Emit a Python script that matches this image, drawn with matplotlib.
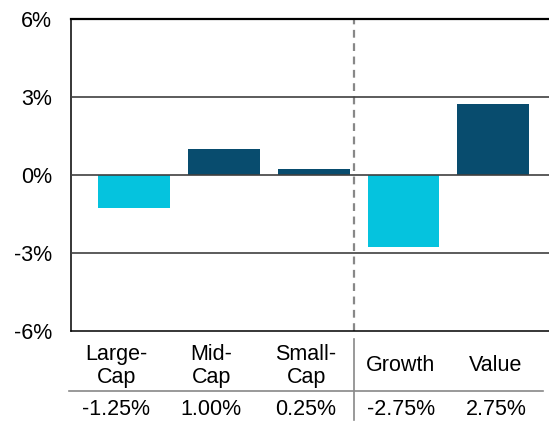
import matplotlib.pyplot as plt
import matplotlib.ticker as mticker

plt.rcParams["font.family"] = ["Liberation Sans", "DejaVu Sans"]

categories = ["Large-\nCap", "Mid-\nCap", "Small-\nCap", "Growth", "Value"]
values = [-1.25, 1.00, 0.25, -2.75, 2.75]
value_labels = ["-1.25%", "1.00%", "0.25%", "-2.75%", "2.75%"]
y_ticks = [-6, -3, 0, 3, 6]

CYAN = "#05C3DE"
NAVY = "#084C6E"
colors = [CYAN if v < 0 else NAVY for v in values]

fig = plt.figure(figsize=(5.49, 4.23), dpi=100)
ax = fig.add_axes([71 / 549, 92 / 423, 478 / 549, 312 / 423])

x = list(range(len(categories)))
ax.bar(x, values, width=0.8, color=colors, zorder=2)

# inner gridlines drawn on top of the bars
for t in y_ticks[1:-1]:
    ax.axhline(t, color="#404040", linewidth=1.2, zorder=3)

ax.set_xlim(-0.70, 4.62)
ax.set_ylim(y_ticks[0], y_ticks[-1])
ax.set_yticks(y_ticks)
ax.yaxis.set_major_formatter(mticker.FuncFormatter(lambda v, _: f"{v:.0f}%"))
ax.tick_params(axis="y", length=0, pad=13.5, labelsize=15.5)
ax.set_xticks([])

for s in ("left", "bottom", "top"):
    ax.spines[s].set_color("black")
    ax.spines[s].set_linewidth(1.1)
ax.spines["top"].set_linewidth(1.6)
ax.spines["right"].set_visible(False)

# table under the chart: equal-width columns spanning its own extent
tbl_left, tbl_right = -0.724, 4.557
col_w = (tbl_right - tbl_left) / len(categories)
col_x = [tbl_left + col_w * (i + 0.5) for i in range(len(categories))]
sep = tbl_left + 3 * col_w

# dashed separator between size and style groups
ax.axvline(sep, color="#888888", linewidth=1.6, linestyle=(0, (3.5, 2.5)), zorder=1)

tr = ax.get_xaxis_transform()
for cx, lab, vl in zip(col_x, categories, value_labels):
    ax.text(cx, -0.112, lab, transform=tr, ha="center", va="center",
            fontsize=15.5, linespacing=1.16, clip_on=False)
    ax.text(cx, -0.253, vl, transform=tr, ha="center", va="center",
            fontsize=15.5, clip_on=False)

ax.plot([tbl_left, tbl_right], [-0.192, -0.192], transform=tr, color="#888888",
        linewidth=1.2, clip_on=False)
ax.plot([sep, sep], [-0.026, -0.285], transform=tr, color="#888888",
        linewidth=1.2, clip_on=False)

fig.savefig("out.png", dpi=100)
